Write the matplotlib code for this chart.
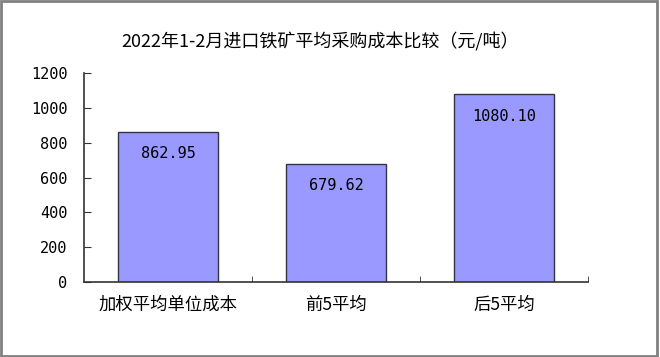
import matplotlib
matplotlib.use("Agg")
import matplotlib.pyplot as plt
from matplotlib.patches import Rectangle

plt.rcParams['font.family'] = ['Noto Sans CJK SC', 'DejaVu Sans']

categories = ['加权平均单位成本', '前5平均', '后5平均']
values = [862.95, 679.62, 1080.10]
value_labels = ['862.95', '679.62', '1080.10']
yticks = [0, 200, 400, 600, 800, 1000, 1200]
title = '2022年1-2月进口铁矿平均采购成本比较（元/吨）'

mono = ['DejaVu Sans Mono']

fig = plt.figure(figsize=(6.6, 3.57), dpi=100)
ax = fig.add_axes([84/660, 1 - 282/357, (588 - 84)/660, (282 - 73)/357])

x = list(range(len(categories)))
ax.bar(x, values, width=0.59, color='#9999FF', edgecolor='#333344', linewidth=1.0, zorder=2)

for xi, v, lab in zip(x, values, value_labels):
    ax.annotate(lab, (xi, v), xytext=(0, -16), textcoords='offset points',
                ha='center', va='center', fontsize=11, color='black', family=mono)

ax.set_xlim(-0.5, len(categories) - 0.5)
ax.set_ylim(0, 1200)
ax.set_yticks(yticks)
ax.set_yticklabels([str(t) for t in yticks], fontsize=11, family=mono)
ax.set_xticks(x)
ax.set_xticklabels(categories, fontsize=12.5)
ax.tick_params(axis='x', length=0, pad=10)
ax.set_xticks([0.5, 1.5, 2.5], minor=True)
ax.tick_params(axis='x', which='minor', direction='in', length=4, color='#333333')
ax.tick_params(axis='y', direction='in', length=5, pad=12, color='#333333')
for s in ['top', 'right']:
    ax.spines[s].set_visible(False)
for s in ['left', 'bottom']:
    ax.spines[s].set_color('#333333')
    ax.spines[s].set_linewidth(1.2)

fig.text(320/660, 1 - 42/357, title, ha='center', va='center', fontsize=13)

fig.patches.append(Rectangle((0.002, 0.004), 0.994, 0.992, transform=fig.transFigure,
                             fill=False, edgecolor='#808080', linewidth=2))

fig.savefig('out.png', dpi=100)
